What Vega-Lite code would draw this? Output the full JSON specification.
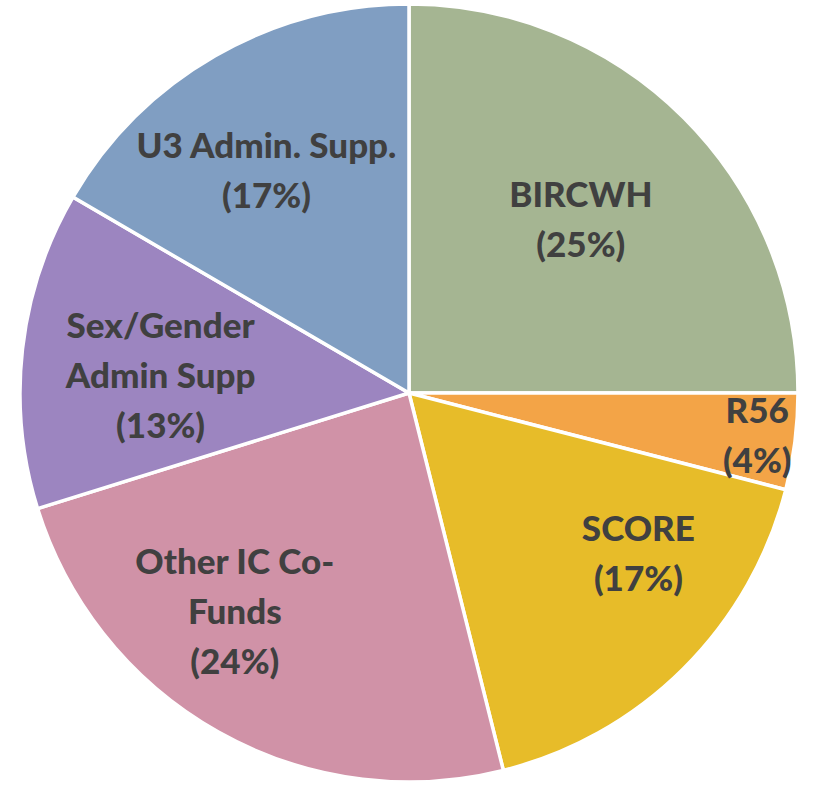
{
  "$schema": "https://vega.github.io/schema/vega-lite/v6.json",
  "width": 818,
  "height": 786,
  "autosize": {"type": "fit", "contains": "padding"},
  "padding": 0,
  "background": "white",
  "view": {"stroke": null},
  "config": {"text": {"font": "Lato", "fontWeight": 900, "fontSize": 35, "lineHeight": 50, "lineBreak": "\n", "color": "#404040", "align": "center", "baseline": "middle"}},
  "data": {
    "values": [
      {"idx": 1, "cat": "BIRCWH", "value": 25.0, "label": "BIRCWH\n(25%)"},
      {"idx": 2, "cat": "R56", "value": 4.0, "label": "R56\n(4%)"},
      {"idx": 3, "cat": "SCORE", "value": 17.1, "label": "SCORE\n(17%)"},
      {"idx": 4, "cat": "Other IC Co-Funds", "value": 24.1, "label": "Other IC Co-\nFunds\n(24%)"},
      {"idx": 5, "cat": "Sex/Gender Admin Supp", "value": 13.2, "label": "Sex/Gender\nAdmin Supp\n(13%)"},
      {"idx": 6, "cat": "U3 Admin. Supp.", "value": 16.6, "label": "U3 Admin. Supp.\n(17%)"}
    ]
  },
  "encoding": {
    "theta": {"field": "value", "type": "quantitative", "stack": true},
    "order": {"field": "idx", "type": "quantitative"}
  },
  "layer": [
    {
      "mark": {"type": "arc", "outerRadius": 389, "stroke": "white", "strokeWidth": 3.5},
      "encoding": {
        "color": {
          "field": "cat", "type": "nominal", "legend": null,
          "scale": {
            "domain": ["BIRCWH", "R56", "SCORE", "Other IC Co-Funds", "Sex/Gender Admin Supp", "U3 Admin. Supp."],
            "range": ["#A5B592", "#F3A447", "#E7BC29", "#D092A7", "#9C85C0", "#809EC2"]
          }
        }
      }
    },
    {
      "mark": {"type": "text", "radius": 243, "dy": -25},
      "encoding": {"text": {"condition": {"test": "datum.cat === 'BIRCWH'", "field": "label"}, "value": ""}}
    },
    {
      "mark": {"type": "text", "radius": 351, "dy": -25},
      "encoding": {"text": {"condition": {"test": "datum.cat === 'R56'", "field": "label"}, "value": ""}}
    },
    {
      "mark": {"type": "text", "radius": 280, "dx": 32, "dy": -62},
      "encoding": {"text": {"condition": {"test": "datum.cat === 'SCORE'", "field": "label"}, "value": ""}}
    },
    {
      "mark": {"type": "text", "radius": 280, "dx": -37, "dy": -74},
      "encoding": {"text": {"condition": {"test": "datum.cat === 'Other IC Co-Funds'", "field": "label"}, "value": ""}}
    },
    {
      "mark": {"type": "text", "radius": 250, "dy": -38},
      "encoding": {"text": {"condition": {"test": "datum.cat === 'Sex/Gender Admin Supp'", "field": "label"}, "value": ""}}
    },
    {
      "mark": {"type": "text", "radius": 264, "dx": -11, "dy": -17},
      "encoding": {"text": {"condition": {"test": "datum.cat === 'U3 Admin. Supp.'", "field": "label"}, "value": ""}}
    }
  ]
}
